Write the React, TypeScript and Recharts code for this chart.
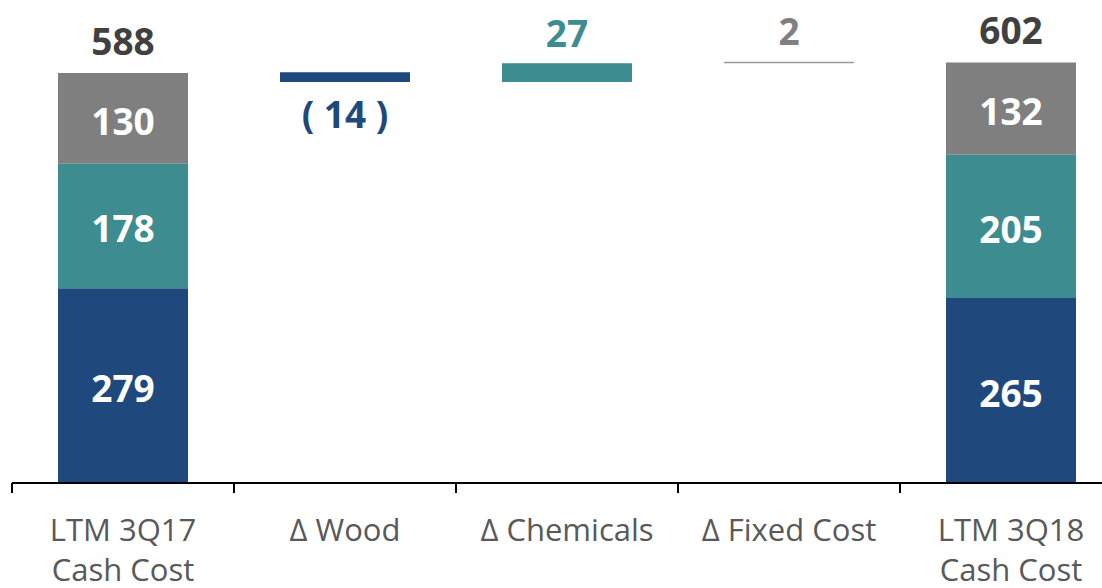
import { Bar, BarChart, Cell, LabelList, XAxis, YAxis } from "recharts";

const categories = ["LTM 3Q17\nCash Cost", "Δ Wood", "Δ Chemicals", "Δ Fixed Cost", "LTM 3Q18\nCash Cost"];
const woodCost = [279, null, null, null, 265];
const chemicalCost = [178, null, null, null, 205];
const fixedCost = [130, null, null, null, 132];
const totals = [588, null, null, null, 602];
const deltas = [null, -14, 27, 2, null];

const BLUE = "#1F497D";
const TEAL = "#3D8C8F";
const GRAY = "#7F7F7F";
const deltaFill = [BLUE, BLUE, TEAL, "#9A9A9A", BLUE];
const deltaText = [BLUE, BLUE, TEAL, "#808080", BLUE];
const FONT = "'Open Sans', 'Segoe UI', sans-serif";
const NUM_SIZE = 37;

const WIDTH = 1130;
const HEIGHT = 588;
const MARGIN = { top: 36, right: 8, bottom: 0, left: 12 };
const BAND = (WIDTH - MARGIN.left - MARGIN.right) / categories.length;

// running total to float the delta bars
let running = totals[0] ?? 0;
const data = categories.map((name, i) => {
  const d = deltas[i];
  let offset: number | null = null;
  let change: number | null = null;
  if (d != null) {
    offset = d < 0 ? running + d : running;
    change = Math.abs(d);
    running += d;
  }
  return {
    name,
    offset,
    wood: woodCost[i],
    chemicals: chemicalCost[i],
    fixed: fixedCost[i],
    total: totals[i],
    change,
    delta: d,
  };
});

const innerLabel = (p: any) => {
  if (p.value == null) return null;
  return (
    <text
      x={p.x + p.width / 2}
      y={p.y + p.height / 2 + 2}
      textAnchor="middle"
      dominantBaseline="central"
      fill="#fff"
      fontSize={NUM_SIZE}
      fontWeight={700}
      fontFamily={FONT}
    >
      {p.value}
    </text>
  );
};

const totalLabel = (p: any) => {
  if (p.value == null) return null;
  return (
    <text
      x={p.x + p.width / 2}
      y={p.y - 33}
      textAnchor="middle"
      dominantBaseline="central"
      fill="#404040"
      fontSize={NUM_SIZE}
      fontWeight={700}
      fontFamily={FONT}
    >
      {p.value}
    </text>
  );
};

const deltaLabel = (p: any) => {
  if (p.value == null) return null;
  const idx = deltas.indexOf(p.value);
  const neg = p.value < 0;
  const y = neg ? p.y + p.height + 31 : p.y - 31;
  return (
    <text
      x={p.x + p.width / 2}
      y={y}
      textAnchor="middle"
      dominantBaseline="central"
      fill={deltaText[idx]}
      fontSize={NUM_SIZE}
      fontWeight={700}
      fontFamily={FONT}
    >
      {neg ? `( ${Math.abs(p.value)} )` : p.value}
    </text>
  );
};

const CategoryTick = (p: any) => {
  const lines = String(p.payload.value).split("\n");
  const left = p.x - BAND / 2;
  return (
    <g>
      <line x1={left} x2={left} y1={p.y} y2={p.y + 10} stroke="#000" strokeWidth={2} />
      <text textAnchor="middle" fill="#595959" fontSize={31} fontFamily={FONT}>
        {lines.map((l, i) => (
          <tspan key={i} x={p.x} y={p.y + 58 + i * 40}>
            {l}
          </tspan>
        ))}
      </text>
    </g>
  );
};

export default function App() {
  return (
    <div
      style={{
        position: "fixed",
        left: 0,
        top: 0,
        width: 1102,
        height: 588,
        overflow: "hidden",
        background: "#fff",
      }}
    >
      <BarChart width={WIDTH} height={HEIGHT} data={data} margin={MARGIN} barSize={130}>
        <XAxis
          dataKey="name"
          height={105}
          interval={0}
          tickLine={false}
          tickSize={0}
          tickMargin={0}
          axisLine={{ stroke: "#000", strokeWidth: 2 }}
          tick={<CategoryTick />}
        />
        <YAxis hide domain={[0, 640]} />
        <Bar dataKey="offset" stackId="s" fill="transparent" isAnimationActive={false} />
        <Bar dataKey="wood" stackId="s" fill={BLUE} isAnimationActive={false}>
          <LabelList dataKey="wood" content={innerLabel} />
        </Bar>
        <Bar dataKey="chemicals" stackId="s" fill={TEAL} isAnimationActive={false}>
          <LabelList dataKey="chemicals" content={innerLabel} />
        </Bar>
        <Bar dataKey="fixed" stackId="s" fill={GRAY} isAnimationActive={false}>
          <LabelList dataKey="fixed" content={innerLabel} />
          <LabelList dataKey="total" content={totalLabel} />
        </Bar>
        <Bar dataKey="change" stackId="s" isAnimationActive={false}>
          {data.map((_, i) => (
            <Cell key={i} fill={deltaFill[i]} />
          ))}
          <LabelList dataKey="delta" content={deltaLabel} />
        </Bar>
      </BarChart>
    </div>
  );
}
